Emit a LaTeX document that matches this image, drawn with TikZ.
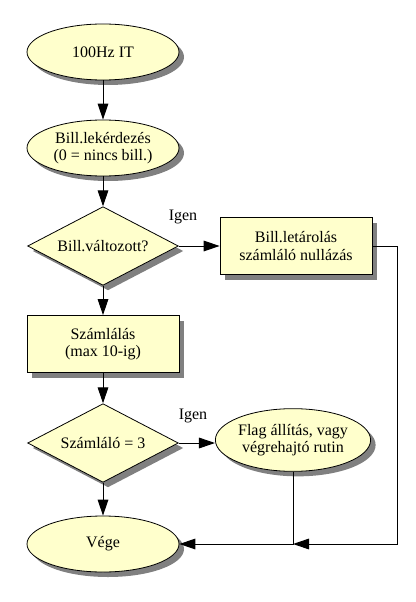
\documentclass[tikz,border=0pt]{standalone}
\usepackage{fontspec}
\setmainfont{Liberation Serif}
\usetikzlibrary{arrows.meta,positioning,shadows,shapes.geometric}
\definecolor{flowFill}{HTML}{FFFFCC}
\tikzset{
  flowShadow/.style={drop shadow={shadow xshift=3.75pt, shadow yshift=-3.75pt, fill=gray, opacity=1}},
  flowTerminal/.style={draw, ellipse, fill=flowFill, flowShadow, align=center, font=\fontsize{12}{13}\selectfont, inner sep=0pt, minimum width=114pt, minimum height=42pt, line width=0.6pt},
  flowProcess/.style={draw, rectangle, fill=flowFill, flowShadow, align=center, font=\fontsize{12}{13}\selectfont, inner sep=0pt, minimum width=114pt, minimum height=42.75pt, line width=0.6pt},
  flowDecision/.style={draw, diamond, aspect=1.9, fill=flowFill, flowShadow, align=center, font=\fontsize{12}{13}\selectfont, inner sep=0pt, minimum width=113pt, minimum height=59pt, line width=0.6pt},
  flowArrow/.style={-{Triangle[length=12pt, width=8pt]}, line width=0.75pt},
  flowLabel/.style={font=\fontsize{12}{13}\selectfont, inner sep=1pt}
}
\begin{document}
\begin{tikzpicture}[x=0.75pt, y=-0.75pt]
  \useasboundingbox (0,0) rectangle (416,602);
  \node[flowTerminal] (start) at (103,52) {100Hz IT};
  \node[flowTerminal] (scan) at (103,148) {Bill.lekérdezés\\(0 = nincs bill.)};
  \node[flowDecision] (changed) at (103,246) {Bill.változott?};
  \node[flowProcess] (store) at (296,246) {Bill.letárolás\\számláló nullázás};
  \node[flowProcess] (count) at (103,344) {Számlálás\\(max 10-ig)};
  \node[flowDecision] (three) at (103,443) {Számláló = 3};
  \node[flowTerminal, minimum width=112.5pt, minimum height=47pt] (flag) at (293,440) {Flag állítás, vagy\\végrehajtó rutin};
  \node[flowTerminal] (finish) at (103,544) {Vége};
  \node[flowLabel] (yes1) at (183,217) {Igen};
  \node[flowLabel] (yes2) at (193,416) {Igen};
  \coordinate (merge) at (flag.south |- finish.east);
  \draw[flowArrow] (start) -- (scan);
  \draw[flowArrow] (scan) -- (changed);
  \draw[flowArrow] (changed) -- (store);
  \draw[flowArrow] (changed) -- (count);
  \draw[flowArrow] (count) -- (three);
  \draw[flowArrow] (three.east) -- (flag.west |- three.east);
  \draw[flowArrow] (three) -- (finish);
  \draw[flowArrow] (flag.south) |- (finish.east);
  \draw[flowArrow] (store.east) -- ++(25,0) |- (merge);
\end{tikzpicture}
\end{document}
